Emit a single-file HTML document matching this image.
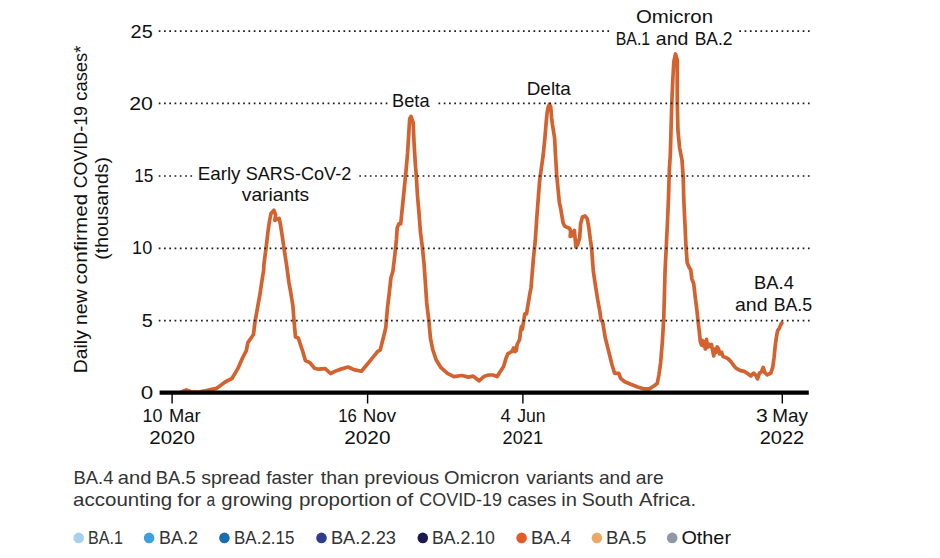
<!DOCTYPE html>
<html><head><meta charset="utf-8"><title>BA.4 and BA.5 in South Africa</title>
<style>
html,body{margin:0;padding:0;background:#fff;}
body{width:940px;height:558px;overflow:hidden;}
svg{display:block;}
</style></head><body>
<svg width="940" height="558" viewBox="0 0 940 558" font-family="'Liberation Sans', Arial, sans-serif">
<g stroke="#000" stroke-width="1.4">
<line x1="172.1" y1="394" x2="172.1" y2="403.5"/>
<line x1="367.6" y1="394" x2="367.6" y2="403.5"/>
<line x1="522.9" y1="394" x2="522.9" y2="403.5"/>
<line x1="782.3" y1="394" x2="782.3" y2="403.5"/>
</g>
<path d="M182.5,391.5 L186.3,389.9 L191.3,392.0 L200.0,391.8 L206.4,390.6 L216.4,388.4 L225.2,382.0 L232.1,378.3 L237.7,368.9 L242.5,358.0 L246.3,350.6 L247.9,342.6 L253.5,334.5 L254.4,326.5 L255.2,320.8 L257.6,307.1 L260.0,294.2 L261.6,282.9 L263.7,270.0 L263.9,264.5 L266.0,248.4 L267.9,232.3 L269.5,221.0 L271.0,213.5 L273.9,210.3 L275.6,215.0 L274.8,220.3 L276.5,219.5 L279.1,218.4 L280.4,224.2 L282.4,237.0 L284.0,248.4 L286.5,264.5 L289.0,283.0 L290.8,292.9 L292.9,305.8 L294.0,320.9 L295.5,337.0 L298.3,338.0 L300.4,344.5 L302.6,351.0 L305.4,360.6 L310.1,362.8 L314.4,368.2 L318.7,369.2 L325.2,368.6 L330.5,373.5 L335.0,371.3 L340.0,369.4 L348.2,367.0 L353.8,369.6 L361.4,371.2 L366.4,365.2 L372.7,357.6 L377.7,351.4 L380.2,350.1 L382.1,342.6 L384.0,335.0 L385.8,327.5 L387.4,308.6 L389.3,292.8 L390.9,278.1 L392.9,271.2 L394.8,255.4 L396.4,239.7 L397.2,227.9 L398.8,223.9 L400.7,223.9 L401.8,213.0 L404.0,191.5 L406.1,170.0 L407.6,152.9 L408.9,131.5 L409.7,118.6 L411.0,116.4 L413.2,122.9 L414.0,142.2 L415.3,163.6 L416.2,174.4 L417.5,195.8 L419.0,213.0 L420.4,231.8 L422.4,247.6 L424.0,263.3 L425.4,283.0 L426.7,302.7 L427.8,312.0 L428.9,321.0 L430.5,338.7 L432.9,350.0 L436.1,359.7 L441.0,367.7 L447.4,373.4 L453.9,376.6 L461.9,375.5 L468.4,377.1 L473.2,376.1 L479.0,380.8 L484.4,376.2 L488.6,375.0 L492.9,375.0 L497.2,376.5 L500.1,371.8 L503.5,366.7 L506.1,358.1 L507.8,353.9 L510.0,352.5 L512.0,351.3 L513.7,347.9 L515.0,351.5 L516.3,350.5 L517.1,344.5 L519.7,339.4 L520.2,334.0 L521.4,326.6 L522.3,329.2 L524.0,319.0 L524.8,313.9 L526.5,313.9 L528.2,303.6 L529.9,293.4 L531.0,288.0 L532.3,272.0 L533.6,256.5 L535.3,240.3 L536.9,216.1 L538.3,198.0 L539.6,180.8 L541.1,170.1 L543.2,155.1 L544.9,137.9 L546.5,118.6 L547.2,112.0 L548.2,107.0 L549.5,104.3 L550.8,107.5 L551.2,113.0 L551.6,118.0 L552.5,125.0 L554.6,137.9 L555.5,155.1 L556.8,176.5 L558.3,191.6 L559.3,202.3 L560.6,208.0 L562.0,216.5 L563.1,222.9 L564.7,226.1 L566.8,227.2 L569.5,228.3 L570.6,231.0 L570.2,236.5 L572.2,235.5 L574.3,230.4 L575.2,239.0 L575.9,247.2 L577.6,244.4 L579.7,237.9 L580.6,224.0 L582.4,217.0 L585.0,216.0 L587.2,218.6 L588.8,227.2 L590.4,240.1 L591.6,248.0 L593.3,271.0 L595.5,286.0 L598.3,303.2 L599.8,311.0 L601.0,320.0 L602.7,322.1 L605.2,337.5 L608.6,351.1 L612.0,364.7 L614.6,373.3 L618.8,373.3 L620.6,378.4 L624.8,381.8 L630.8,384.3 L637.6,386.9 L644.4,388.9 L649.5,388.9 L653.8,386.0 L657.2,383.5 L658.9,375.0 L660.6,363.0 L662.3,342.6 L663.8,317.0 L665.1,269.8 L666.3,246.5 L667.4,223.3 L668.4,200.0 L669.4,168.6 L670.3,155.0 L671.0,131.2 L671.8,103.0 L672.8,80.0 L673.8,62.0 L675.5,54.0 L677.3,60.0 L677.2,80.0 L677.3,103.0 L677.9,130.0 L679.6,148.0 L682.0,160.0 L683.2,177.2 L683.8,200.0 L684.9,223.3 L686.0,246.5 L687.2,262.8 L689.1,267.4 L690.7,269.8 L691.9,279.1 L693.7,283.7 L695.3,297.7 L696.9,310.0 L697.9,320.0 L699.3,331.5 L700.3,341.6 L701.5,345.0 L702.5,340.5 L703.6,346.0 L704.5,342.0 L705.3,349.0 L706.5,339.4 L707.3,347.5 L708.5,344.0 L710.1,346.5 L711.5,344.5 L712.5,350.0 L713.7,355.9 L714.8,349.0 L715.8,352.5 L717.2,347.0 L718.7,349.5 L719.6,354.0 L721.6,352.3 L723.0,356.5 L725.2,357.3 L728.0,358.6 L730.9,361.6 L733.0,364.5 L735.9,368.1 L740.5,370.6 L744.3,371.4 L747.9,373.8 L750.8,376.0 L753.6,373.1 L755.8,375.3 L757.5,378.9 L759.4,373.1 L761.5,371.7 L763.2,367.4 L764.7,372.4 L767.3,374.8 L770.8,373.1 L772.7,367.4 L774.1,357.3 L775.2,345.9 L776.6,335.8 L777.6,330.8 L779.5,327.9 L780.9,324.3 L781.9,322.9" fill="none" stroke="#d3622f" stroke-width="3.7" stroke-linejoin="round" stroke-linecap="round"/>
<line x1="158.75" y1="31.1" x2="610.5" y2="31.1" stroke="#1a1a1a" stroke-width="1.7" stroke-dasharray="1.7 3.578"/><line x1="739.3299999999999" y1="31.1" x2="809.6" y2="31.1" stroke="#1a1a1a" stroke-width="1.7" stroke-dasharray="1.7 3.578"/><line x1="158.75" y1="103.4" x2="388" y2="103.4" stroke="#1a1a1a" stroke-width="1.7" stroke-dasharray="1.7 3.578"/><line x1="438.484" y1="103.4" x2="809.6" y2="103.4" stroke="#1a1a1a" stroke-width="1.7" stroke-dasharray="1.7 3.578"/><line x1="158.75" y1="176.0" x2="193" y2="176.0" stroke="#1a1a1a" stroke-width="1.7" stroke-dasharray="1.7 3.578"/><line x1="359.31399999999996" y1="176.0" x2="809.6" y2="176.0" stroke="#1a1a1a" stroke-width="1.7" stroke-dasharray="1.7 3.578"/><line x1="158.75" y1="248.3" x2="809.6" y2="248.3" stroke="#1a1a1a" stroke-width="1.7" stroke-dasharray="1.7 3.578"/><line x1="158.75" y1="320.7" x2="809.6" y2="320.7" stroke="#1a1a1a" stroke-width="1.7" stroke-dasharray="1.7 3.578"/>
<line x1="159.6" y1="392.7" x2="808.8" y2="392.7" stroke="#000" stroke-width="4.2"/>
<g font-size="19"><text x="130.63" y="38.00" fill="#111" textLength="22.05" lengthAdjust="spacingAndGlyphs">25</text>
<text x="129.27" y="109.70" fill="#111" textLength="23.70" lengthAdjust="spacingAndGlyphs">20</text>
<text x="134.19" y="181.90" fill="#111" textLength="19.14" lengthAdjust="spacingAndGlyphs">15</text>
<text x="132.10" y="254.10" fill="#111" textLength="20.08" lengthAdjust="spacingAndGlyphs">10</text>
<text x="141.68" y="326.80" fill="#111" textLength="11.05" lengthAdjust="spacingAndGlyphs">5</text>
<text x="140.67" y="398.90" fill="#111" textLength="12.47" lengthAdjust="spacingAndGlyphs">0</text>
<text y="422.00" fill="#111"><tspan x="142.48" textLength="19.88" lengthAdjust="spacingAndGlyphs">10</tspan> <tspan x="169.03" textLength="31.51" lengthAdjust="spacingAndGlyphs">Mar</tspan></text>
<text x="149.20" y="444.10" fill="#111" textLength="45.79" lengthAdjust="spacingAndGlyphs">2020</text>
<text y="422.00" fill="#111"><tspan x="338.29" textLength="18.50" lengthAdjust="spacingAndGlyphs">16</tspan> <tspan x="362.82" textLength="33.39" lengthAdjust="spacingAndGlyphs">Nov</tspan></text>
<text x="344.29" y="444.10" fill="#111" textLength="46.20" lengthAdjust="spacingAndGlyphs">2020</text>
<text y="422.00" fill="#111"><tspan x="500.60" textLength="10.16" lengthAdjust="spacingAndGlyphs">4</tspan> <tspan x="517.20" textLength="28.39" lengthAdjust="spacingAndGlyphs">Jun</tspan></text>
<text x="502.58" y="444.10" fill="#111" textLength="40.43" lengthAdjust="spacingAndGlyphs">2021</text>
<text y="422.00" fill="#111"><tspan x="756.14" textLength="11.79" lengthAdjust="spacingAndGlyphs">3</tspan> <tspan x="772.25" textLength="35.76" lengthAdjust="spacingAndGlyphs">May</tspan></text>
<text x="759.69" y="444.10" fill="#111" textLength="44.56" lengthAdjust="spacingAndGlyphs">2022</text>
<text y="179.60" fill="#111"><tspan x="197.63" textLength="42.90" lengthAdjust="spacingAndGlyphs">Early</tspan> <tspan x="245.65" textLength="105.59" lengthAdjust="spacingAndGlyphs">SARS-CoV-2</tspan></text>
<text x="241.80" y="201.10" fill="#111" textLength="67.34" lengthAdjust="spacingAndGlyphs">variants</text>
<text x="392.09" y="106.90" fill="#111" textLength="37.45" lengthAdjust="spacingAndGlyphs">Beta</text>
<text x="526.71" y="94.60" fill="#111" textLength="44.16" lengthAdjust="spacingAndGlyphs">Delta</text>
<text x="635.90" y="22.80" fill="#111" textLength="77.13" lengthAdjust="spacingAndGlyphs">Omicron</text>
<text y="44.70" fill="#111"><tspan x="615.77" textLength="34.44" lengthAdjust="spacingAndGlyphs">BA.1</tspan> <tspan x="655.79" textLength="32.55" lengthAdjust="spacingAndGlyphs">and</tspan> <tspan x="694.67" textLength="37.83" lengthAdjust="spacingAndGlyphs">BA.2</tspan></text>
<text x="754.09" y="289.40" fill="#111" textLength="39.76" lengthAdjust="spacingAndGlyphs">BA.4</text>
<text y="311.20" fill="#111"><tspan x="734.99" textLength="32.55" lengthAdjust="spacingAndGlyphs">and</tspan> <tspan x="773.67" textLength="38.46" lengthAdjust="spacingAndGlyphs">BA.5</tspan></text>
<text y="484.00" fill="#333"><tspan x="73.45" textLength="39.99" lengthAdjust="spacingAndGlyphs">BA.4</tspan> <tspan x="117.77" textLength="33.63" lengthAdjust="spacingAndGlyphs">and</tspan> <tspan x="155.83" textLength="39.94" lengthAdjust="spacingAndGlyphs">BA.5</tspan> <tspan x="201.17" textLength="59.56" lengthAdjust="spacingAndGlyphs">spread</tspan> <tspan x="266.20" textLength="47.34" lengthAdjust="spacingAndGlyphs">faster</tspan> <tspan x="320.80" textLength="38.01" lengthAdjust="spacingAndGlyphs">than</tspan> <tspan x="364.35" textLength="74.71" lengthAdjust="spacingAndGlyphs">previous</tspan> <tspan x="443.95" textLength="75.49" lengthAdjust="spacingAndGlyphs">Omicron</tspan> <tspan x="526.20" textLength="67.54" lengthAdjust="spacingAndGlyphs">variants</tspan> <tspan x="598.98" textLength="31.92" lengthAdjust="spacingAndGlyphs">and</tspan> <tspan x="635.79" textLength="27.89" lengthAdjust="spacingAndGlyphs">are</tspan></text>
<text y="505.60" fill="#333"><tspan x="73.13" textLength="99.06" lengthAdjust="spacingAndGlyphs">accounting</tspan> <tspan x="177.20" textLength="24.22" lengthAdjust="spacingAndGlyphs">for</tspan> <tspan x="206.59" textLength="8.68" lengthAdjust="spacingAndGlyphs">a</tspan> <tspan x="221.33" textLength="71.26" lengthAdjust="spacingAndGlyphs">growing</tspan> <tspan x="298.93" textLength="92.50" lengthAdjust="spacingAndGlyphs">proportion</tspan> <tspan x="396.09" textLength="17.14" lengthAdjust="spacingAndGlyphs">of</tspan> <tspan x="419.26" textLength="82.75" lengthAdjust="spacingAndGlyphs">COVID-19</tspan> <tspan x="507.61" textLength="48.82" lengthAdjust="spacingAndGlyphs">cases</tspan> <tspan x="561.37" textLength="15.72" lengthAdjust="spacingAndGlyphs">in</tspan> <tspan x="581.77" textLength="51.31" lengthAdjust="spacingAndGlyphs">South</tspan> <tspan x="639.00" textLength="57.18" lengthAdjust="spacingAndGlyphs">Africa.</tspan></text>
<text x="88.11" y="544.40" fill="#333" textLength="34.87" lengthAdjust="spacingAndGlyphs">BA.1</text>
<text x="159.12" y="544.40" fill="#333" textLength="38.89" lengthAdjust="spacingAndGlyphs">BA.2</text>
<text x="234.00" y="544.40" fill="#333" textLength="60.44" lengthAdjust="spacingAndGlyphs">BA.2.15</text>
<text x="330.90" y="544.40" fill="#333" textLength="65.15" lengthAdjust="spacingAndGlyphs">BA.2.23</text>
<text x="432.00" y="544.40" fill="#333" textLength="62.90" lengthAdjust="spacingAndGlyphs">BA.2.10</text>
<text x="530.99" y="544.40" fill="#333" textLength="39.97" lengthAdjust="spacingAndGlyphs">BA.4</text>
<text x="606.11" y="544.40" fill="#333" textLength="40.36" lengthAdjust="spacingAndGlyphs">BA.5</text>
<text x="681.41" y="544.40" fill="#111" textLength="49.60" lengthAdjust="spacingAndGlyphs">Other</text>
<text transform="rotate(-90)" y="87.10" fill="#111"><tspan x="-373.21" textLength="43.06" lengthAdjust="spacingAndGlyphs">Daily</tspan> <tspan x="-325.01" textLength="35.68" lengthAdjust="spacingAndGlyphs">new</tspan> <tspan x="-284.49" textLength="90.63" lengthAdjust="spacingAndGlyphs">confirmed</tspan> <tspan x="-188.35" textLength="82.35" lengthAdjust="spacingAndGlyphs">COVID-19</tspan> <tspan x="-100.77" textLength="55.20" lengthAdjust="spacingAndGlyphs">cases*</tspan></text>
<text transform="rotate(-90)" x="-259.70" y="108.40" fill="#111" textLength="102.60" lengthAdjust="spacingAndGlyphs">(thousands)</text></g>
<g>
<circle cx="78.7" cy="537.9" r="5.3" fill="#a8d1ec"/>
<circle cx="149.1" cy="537.9" r="5.3" fill="#3ca0dc"/>
<circle cx="224.4" cy="537.9" r="5.3" fill="#1a6db3"/>
<circle cx="321.5" cy="537.9" r="5.3" fill="#2e3e8e"/>
<circle cx="422.8" cy="537.9" r="5.3" fill="#1b1950"/>
<circle cx="521.6" cy="537.9" r="5.3" fill="#e65a2a"/>
<circle cx="596.9" cy="537.9" r="5.3" fill="#eca865"/>
<circle cx="672.2" cy="537.9" r="5.3" fill="#8f98a3"/>
</g>
</svg>
</body></html>
